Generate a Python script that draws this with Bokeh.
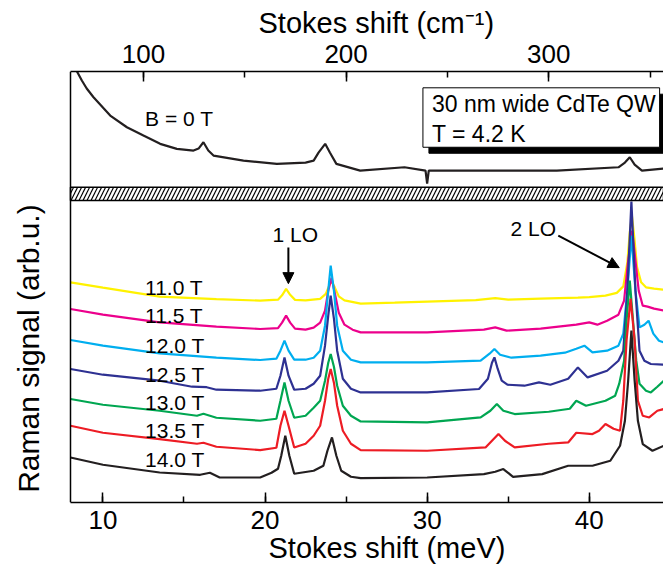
import math
from bokeh.plotting import figure
from bokeh.models import (Range1d, LinearAxis, SingleIntervalTicker, Span, Title,
                          Label, Arrow, NormalHead, ColumnDataSource)
from bokeh.core.properties import value
from bokeh.embed import file_html
from bokeh.resources import INLINE

FONT = "Liberation Sans"
E_MIN, E_MAX = 8.0, 44.58
X_LEFT = 3.682           # left edge of canvas in meV (room for the y title)
CM_PER_MEV = 8.0
Y_TOP = 430.7

fields = ["11.0 T", "11.5 T", "12.0 T", "12.5 T", "13.0 T", "13.5 T", "14.0 T"]
colors = ["#FFF200", "#EC008C", "#00AEEF", "#2E3192", "#00A651", "#ED1C24", "#231F20"]
label_y = [215.0, 186.7, 156.7, 128.4, 100.0, 71.7, 43.4]

# ---- spectra (Stokes shift in meV, Raman signal in arb. u., stacked) ----
e_110 = [8.0, 10.0, 13.5, 17.0, 19.7, 20.8, 21.05, 21.3, 21.55, 21.85, 22.5, 23.4, 23.75, 23.95, 24.1, 24.3, 24.55, 24.9, 25.9, 28.0, 30.0, 33.0, 34.2, 35.0, 37.0, 39.3, 40.0, 41.0, 41.7, 42.1, 42.35, 42.5, 42.63, 42.78, 42.95, 43.2, 43.5, 44.0, 44.6]
s_110 = [220.0, 214.7, 205.7, 203.2, 201.7, 202.7, 207.0, 213.4, 207.5, 202.5, 202.0, 203.5, 208.5, 216.5, 221.7, 215.0, 206.0, 202.0, 198.7, 199.7, 200.7, 202.2, 204.2, 202.7, 203.7, 204.7, 205.2, 206.7, 209.5, 216.0, 240.0, 270.0, 286.7, 265.0, 235.0, 220.0, 215.0, 213.7, 212.7]

e_115 = [8.0, 10.0, 13.5, 17.0, 19.7, 20.8, 21.05, 21.3, 21.55, 21.85, 22.5, 23.0, 23.4, 23.7, 23.9, 24.1, 24.3, 24.55, 24.9, 25.4, 25.9, 30.0, 33.5, 34.2, 34.9, 37.0, 39.2, 40.0, 40.5, 41.1, 41.8, 42.15, 42.4, 42.65, 42.85, 43.05, 43.3, 43.6, 44.0, 44.6]
s_115 = [193.4, 187.7, 180.0, 175.7, 173.4, 174.2, 179.7, 186.7, 179.7, 173.7, 172.7, 174.7, 179.7, 191.7, 211.7, 224.7, 209.7, 189.7, 177.7, 172.7, 170.0, 170.0, 172.7, 175.0, 171.7, 173.7, 177.7, 180.0, 177.7, 181.7, 187.7, 201.7, 241.7, 271.7, 241.7, 211.7, 196.7, 195.7, 193.7, 191.7]

e_120 = [8.0, 10.0, 13.5, 17.0, 19.7, 20.7, 20.95, 21.2, 21.45, 21.8, 22.5, 23.0, 23.4, 23.7, 23.9, 24.05, 24.25, 24.45, 24.8, 25.3, 25.9, 30.0, 33.3, 33.85, 34.15, 34.5, 35.2, 37.0, 38.5, 39.2, 39.7, 40.2, 41.1, 41.8, 42.1, 42.35, 42.6, 42.85, 43.1, 43.4, 43.66, 43.95, 44.3, 44.6]
s_120 = [162.4, 156.7, 149.0, 144.7, 142.4, 143.7, 151.7, 161.7, 151.7, 142.7, 142.7, 144.7, 151.7, 176.7, 211.7, 236.7, 211.7, 176.7, 151.7, 142.7, 140.0, 140.0, 141.7, 148.7, 153.4, 147.7, 144.7, 146.7, 149.7, 153.7, 156.7, 150.0, 151.7, 156.7, 168.7, 211.7, 266.7, 211.7, 175.0, 177.7, 181.7, 168.7, 161.7, 160.0]

e_125 = [8.0, 10.0, 13.5, 15.5, 16.4, 17.0, 19.7, 20.7, 20.95, 21.2, 21.45, 21.8, 22.5, 23.0, 23.4, 23.7, 23.9, 24.05, 24.25, 24.45, 24.8, 25.3, 25.9, 30.0, 33.2, 33.75, 34.0, 34.15, 34.35, 34.6, 34.95, 36.0, 36.9, 37.6, 38.7, 39.3, 39.9, 41.1, 41.8, 42.1, 42.35, 42.6, 42.85, 43.1, 43.4, 43.8, 44.6]
s_125 = [133.4, 127.7, 121.7, 115.7, 115.2, 112.7, 111.7, 113.7, 126.7, 145.0, 126.7, 112.7, 113.7, 118.7, 126.7, 156.7, 186.7, 206.7, 183.7, 151.7, 123.7, 113.7, 110.0, 110.0, 113.4, 123.7, 139.7, 145.0, 133.7, 121.7, 117.7, 116.7, 120.0, 117.7, 123.7, 135.0, 125.0, 131.7, 141.7, 151.7, 211.7, 300.7, 211.7, 151.7, 141.7, 138.4, 137.7]

e_130 = [8.0, 10.0, 13.5, 15.8, 16.2, 17.0, 19.7, 20.7, 20.95, 21.2, 21.45, 21.8, 22.5, 23.0, 23.4, 23.7, 23.9, 24.05, 24.25, 24.45, 24.8, 25.3, 25.9, 30.0, 33.3, 33.9, 34.3, 34.7, 35.4, 37.5, 38.8, 39.2, 39.8, 41.0, 41.6, 41.85, 42.15, 42.3, 42.5, 42.7, 42.9, 43.1, 43.5, 43.8, 44.2, 44.6]
s_130 = [103.4, 97.7, 91.7, 86.7, 88.7, 84.7, 81.7, 83.7, 101.7, 120.0, 101.7, 84.7, 86.7, 94.7, 101.7, 121.7, 139.7, 148.4, 135.7, 116.7, 96.7, 86.7, 81.0, 80.0, 85.0, 91.7, 98.4, 91.7, 88.4, 90.7, 93.7, 101.7, 96.7, 101.7, 106.7, 118.7, 141.7, 181.7, 221.7, 181.7, 141.7, 118.7, 111.7, 110.0, 115.7, 121.7]

e_135 = [8.0, 10.0, 13.5, 15.8, 16.2, 17.0, 19.7, 20.7, 20.95, 21.2, 21.45, 21.8, 22.5, 23.0, 23.4, 23.7, 23.9, 24.05, 24.25, 24.45, 24.8, 25.3, 25.9, 30.0, 33.6, 34.0, 34.4, 34.8, 35.4, 37.5, 38.7, 39.2, 40.2, 40.6, 41.0, 41.5, 41.9, 42.1, 42.3, 42.55, 42.8, 43.0, 43.3, 43.7, 44.2, 44.6]
s_135 = [76.7, 69.7, 63.4, 58.7, 59.7, 55.7, 52.4, 54.7, 76.7, 91.7, 76.7, 55.0, 58.7, 66.7, 76.7, 101.7, 123.7, 133.4, 119.7, 96.7, 71.7, 58.7, 52.4, 51.7, 55.0, 61.7, 68.4, 61.7, 55.0, 58.7, 60.0, 69.7, 68.4, 71.7, 78.4, 73.7, 71.7, 101.7, 161.7, 203.7, 161.7, 101.7, 86.7, 85.0, 91.7, 93.4]

e_140 = [8.0, 10.0, 13.5, 16.0, 16.6, 17.2, 19.7, 20.4, 20.8, 21.0, 21.25, 21.5, 21.8, 23.0, 23.6, 23.85, 24.13, 24.4, 24.7, 25.3, 25.9, 30.0, 33.5, 34.2, 34.7, 35.3, 37.1, 38.7, 40.2, 41.3, 41.9, 42.2, 42.4, 42.6, 42.8, 43.0, 43.3, 43.9, 44.6]
s_140 = [45.0, 37.7, 30.0, 27.7, 29.7, 25.0, 25.0, 29.7, 33.7, 46.7, 66.7, 46.7, 28.7, 31.7, 36.7, 51.7, 65.0, 46.7, 31.7, 25.7, 24.4, 25.0, 28.4, 30.7, 33.4, 25.7, 28.4, 36.7, 36.7, 41.7, 56.7, 81.7, 121.7, 171.7, 121.7, 81.7, 58.4, 51.7, 56.7]

# B = 0 T spectrum (upper panel)
e_0 = [8.4, 8.7, 9.0, 9.42, 10.45, 11.48, 12.5, 13.53, 14.56, 15.59, 15.9, 16.2, 16.5, 16.82, 18.67, 20.73, 22.5, 23.0, 23.3, 23.71, 24.0, 24.4, 25.87, 28.6, 29.9, 30.0, 30.1, 33.3, 38.0, 41.8, 42.2, 42.5, 42.8, 43.25, 44.6]
s_0 = [430.7, 421.7, 413.7, 405.0, 386.7, 375.0, 366.7, 358.4, 353.4, 351.7, 353.7, 360.0, 351.7, 346.7, 341.7, 338.4, 339.7, 341.7, 349.7, 358.4, 349.7, 338.4, 331.7, 335.0, 331.7, 318.7, 331.7, 331.7, 331.7, 335.0, 339.7, 345.0, 337.7, 331.7, 333.7]

spectra_e = [e_110, e_115, e_120, e_125, e_130, e_135, e_140]
spectra_s = [s_110, s_115, s_120, s_125, s_130, s_135, s_140]

p = figure(width=663, height=572, x_range=Range1d(X_LEFT, E_MAX), y_range=Range1d(0, Y_TOP),
           output_backend="svg", toolbar_location=None, y_axis_location=None,
           min_border_left=0, min_border_right=0, min_border_top=71, min_border_bottom=70)
p.extra_x_ranges = {"cm": Range1d(X_LEFT * CM_PER_MEV, E_MAX * CM_PER_MEV)}
p.outline_line_color = None
p.xgrid.visible = False
p.ygrid.visible = False
p.background_fill_color = "white"
p.border_fill_color = "white"

xa = p.xaxis[0]
xa.ticker = SingleIntervalTicker(interval=10, num_minor_ticks=2)
xa.bounds = (E_MIN, E_MAX)

top = LinearAxis(x_range_name="cm", ticker=SingleIntervalTicker(interval=100, num_minor_ticks=2),
                 bounds=(E_MIN * CM_PER_MEV, E_MAX * CM_PER_MEV))
p.add_layout(top, "above")

for ax in [xa, top]:
    ax.axis_line_width = 1.5
    ax.axis_line_color = "black"
    ax.major_tick_in = 10
    ax.major_tick_out = 0
    ax.minor_tick_in = 6
    ax.minor_tick_out = 0
    ax.major_tick_line_width = 1.5
    ax.minor_tick_line_width = 1.5
    ax.major_tick_line_color = "black"
    ax.minor_tick_line_color = "black"
    ax.major_label_text_font = FONT
    ax.major_label_text_font_size = "26px"
    ax.major_label_text_color = "black"
xa.major_label_standoff = 8
top.major_label_standoff = 9

# axis titles, placed over the plotted frame
p.add_layout(Title(text="Stokes shift (meV)", align="left", offset=268, vertical_align="top",
                   standoff=0, text_font=FONT, text_font_size="29px",
                   text_font_style="normal", text_color="black"), "below")
p.add_layout(Title(text="Stokes shift (cm\u207b\u00b9)", align="left", offset=258,
                   vertical_align="bottom", standoff=5, text_font=FONT, text_font_size="29px",
                   text_font_style="normal", text_color="black"), "above")

# left frame edge
p.add_layout(Span(location=E_MIN, dimension="height", line_color="black", line_width=1.5))

# y title
p.add_layout(Label(x=5.41, y=9.7, text="Raman signal (arb.u.)", angle=math.pi / 2,
                   text_font=FONT, text_font_size="30px", text_baseline="middle",
                   text_align="left", text_color="black"))

for e, s, c in zip(spectra_e, spectra_s, colors):
    p.line(e, s, line_color=c, line_width=2.2)
p.line(e_0, s_0, line_color="#231F20", line_width=2.2)

p.quad(left=[E_MIN], right=[E_MAX], bottom=[301.7], top=[315.0], fill_color="white",
       line_color="black", line_width=1.5, hatch_pattern="/", hatch_color="black",
       hatch_scale=8, hatch_weight=1.2)

src = ColumnDataSource(dict(x=[12.6] * len(fields), y=label_y, t=fields))
p.text(x="x", y="y", text="t", source=src, text_font=value(FONT), text_font_size="21px",
       text_baseline="middle", text_align="left", text_color="black")

p.add_layout(Label(x=12.6, y=383.4, text="B = 0 T", text_font=FONT, text_font_size="21px",
                   text_baseline="middle", text_align="left", text_color="black"))

p.quad(left=[30.11], right=[44.7], bottom=[349.0], top=[408.0], fill_color="black", line_color="black")
p.quad(left=[29.74], right=[44.34], bottom=[355.0], top=[414.4], fill_color="white",
       line_color="black", line_width=1)
p.add_layout(Label(x=30.3, y=398.7, text="30 nm wide CdTe QW", text_font=FONT, text_font_size="23px",
                   text_baseline="middle", text_align="left", text_color="black"))
p.add_layout(Label(x=30.3, y=368.7, text="T = 4.2 K", text_font=FONT, text_font_size="23px",
                   text_baseline="middle", text_align="left", text_color="black"))

p.add_layout(Label(x=21.87, y=267.7, text="1 LO", text_font=FONT, text_font_size="21px",
                   text_baseline="middle", text_align="center", text_color="black"))
p.add_layout(Arrow(end=NormalHead(size=11, fill_color="black", line_color="black"),
                   x_start=21.44, y_start=254.7, x_end=21.44, y_end=218.7,
                   line_width=2, line_color="black"))
p.add_layout(Label(x=36.55, y=273.7, text="2 LO", text_font=FONT, text_font_size="21px",
                   text_baseline="middle", text_align="center", text_color="black"))
p.add_layout(Arrow(end=NormalHead(size=11, fill_color="black", line_color="black"),
                   x_start=38.09, y_start=266.7, x_end=41.85, y_end=234.7,
                   line_width=2, line_color="black"))

open("out.html", "w").write(file_html(p, INLINE))
